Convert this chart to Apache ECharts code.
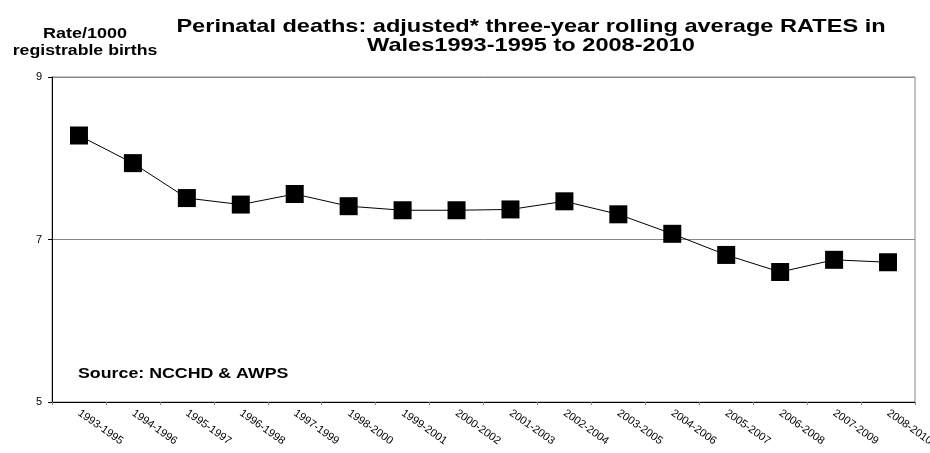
<!DOCTYPE html>
<html>
<head>
<meta charset="utf-8">
<script src="https://cdn.jsdelivr.net/npm/echarts@6/dist/echarts.min.js"></script>
<style>
  html, body { margin: 0; padding: 0; background: #fff; }
  #chart { width: 930px; height: 453px; }
</style>
</head>
<body>
<div id="chart"></div>
<script>
// Three-year rolling periods
const periods = [
  '1993-1995', '1994-1996', '1995-1997', '1996-1998', '1997-1999', '1998-2000',
  '1999-2001', '2000-2002', '2001-2003', '2002-2004', '2003-2005', '2004-2006',
  '2005-2007', '2006-2008', '2007-2009', '2008-2010'
];
// Adjusted perinatal death rate per 1000 registrable births
const rates = [
  8.28, 7.94, 7.51, 7.43, 7.56, 7.41, 7.36, 7.36,
  7.37, 7.47, 7.31, 7.07, 6.81, 6.60, 6.75, 6.72
];
const yTicks = [5, 7, 9];

const chart = echarts.init(document.getElementById('chart'), null, { renderer: 'canvas' });
const family = 'Arial, "Liberation Sans", sans-serif';

// Wide bold text, stretched horizontally like the original report artwork
function wideText(text, x, y, size, align, sx) {
  return {
    type: 'text', x: x, y: y, scaleX: sx, silent: true,
    style: {
      text: text, fill: '#000', align: align, verticalAlign: 'middle',
      font: 'bold ' + size + 'px ' + family
    }
  };
}

chart.setOption({
  animation: false,
  backgroundColor: '#ffffff',
  graphic: [
    wideText('Perinatal deaths: adjusted* three-year rolling average RATES in', 531, 27, 19, 'center', 1.24),
    wideText('Wales1993-1995 to 2008-2010', 531, 46, 19, 'center', 1.24),
    wideText('Rate/1000', 85, 33.5, 15, 'center', 1.2),
    wideText('registrable births', 85, 50.5, 15, 'center', 1.18),
    wideText('Source: NCCHD & AWPS', 78, 374, 14, 'left', 1.27)
  ],
  grid: {
    left: 52, right: 15, top: 77, bottom: 51,
    containLabel: false, outerBoundsMode: 'none',
    show: true, borderColor: '#888', borderWidth: 1
  },
  xAxis: {
    type: 'category',
    data: periods,
    boundaryGap: true,
    axisLine: { show: true, lineStyle: { color: '#000', width: 1 } },
    axisTick: { show: true, length: 3, lineStyle: { color: '#888' }, alignWithLabel: false },
    axisLabel: { rotate: -35, interval: 0, margin: 10, fontFamily: family, fontSize: 11, color: '#000' },
    splitLine: { show: false }
  },
  yAxis: {
    type: 'value',
    min: yTicks[0], max: yTicks[yTicks.length - 1], interval: 2,
    axisLine: { show: true, lineStyle: { color: '#000', width: 1 } },
    axisTick: { show: true, length: 4, lineStyle: { color: '#000' } },
    axisLabel: { fontFamily: family, fontSize: 11, color: '#000', margin: 10 },
    splitLine: { show: true, lineStyle: { color: '#888', width: 1 } }
  },
  series: [{
    type: 'line',
    data: rates,
    symbol: 'rect',
    symbolSize: 18,
    itemStyle: { color: '#000' },
    lineStyle: { color: '#000', width: 1 }
  }]
});
</script>
</body>
</html>
